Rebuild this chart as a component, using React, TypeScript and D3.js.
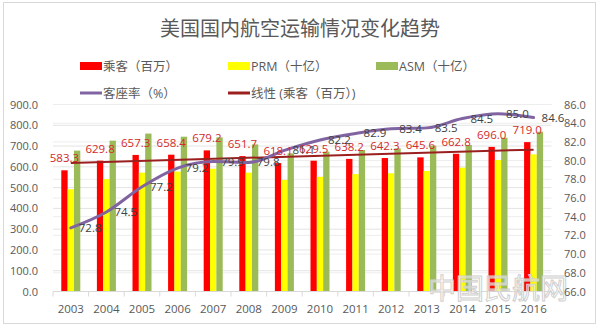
import React from "react";
import * as d3 from "d3";

const years = ["2003", "2004", "2005", "2006", "2007", "2008", "2009", "2010", "2011", "2012", "2013", "2014", "2015", "2016"];
const passengers = [583.3, 629.8, 657.3, 658.4, 679.2, 651.7, 618.1, 629.5, 638.2, 642.3, 645.6, 662.8, 696.0, 719.0];
const rpm = [492, 541, 572, 577, 591, 572, 537, 552, 565, 569, 580, 596, 633, 660];
const asm = [678, 726, 760, 745, 742, 708, 665, 673, 681, 689, 702, 705, 740, 769];
const loadFactor = [72.8, 74.5, 77.2, 79.2, 79.9, 79.8, 81.1, 82.2, 82.9, 83.4, 83.5, 84.5, 85.0, 84.6];
const leftTicks = [0, 100, 200, 300, 400, 500, 600, 700, 800, 900];
const rightTicks = [66, 68, 70, 72, 74, 76, 78, 80, 82, 84, 86];
const title = "美国国内航空运输情况变化趋势";
const legendBars = [
  { label: "乘客（百万）", color: "#ff0000" },
  { label: "PRM（十亿）", color: "#ffff00" },
  { label: "ASM（十亿）", color: "#9bbb59" },
];
const legendLines = [
  { label: "客座率（%）", color: "#8064a2" },
  { label: "线性 (乘客（百万）)", color: "#9c1f1f" },
];

const W = 600, H = 328;
const X0 = 53, X1 = 551.4, Y0 = 291.5, Y1 = 104.5;
const FONT = "'Open Sans', 'Noto Sans CJK SC', sans-serif";

export default function App() {
  const x = d3.scaleBand<string>().domain(years).range([X0, X1]).padding(0);
  const yL = d3.scaleLinear().domain([0, 900]).range([Y0, Y1]);
  const yR = d3.scaleLinear().domain([66, 86]).range([Y0, Y1]);
  const bw = x.bandwidth() * 0.178;
  const cx = (i: number) => (x(years[i]) as number) + x.bandwidth() / 2;

  // linear trend of passengers
  const n = passengers.length;
  const mx = (n - 1) / 2;
  const my = d3.mean(passengers) as number;
  let sxy = 0, sxx = 0;
  passengers.forEach((v, i) => { sxy += (i - mx) * (v - my); sxx += (i - mx) * (i - mx); });
  const slope = sxy / sxx;
  const trendStart = my - slope * mx;
  const trendEnd = my + slope * mx;

  const lfLine = d3.line<number>()
    .x((_, i) => cx(i))
    .y((d) => yR(d))
    .curve(d3.curveMonotoneX);

  const series = [
    { data: passengers, color: "#ff0000", off: -1 },
    { data: rpm, color: "#ffff00", off: 0 },
    { data: asm, color: "#9bbb59", off: 1 },
  ];

  return (
    <svg width={W} height={H} style={{ position: "absolute", left: 0, top: 0, background: "#fff" }} fontFamily={FONT}>
      <rect x={3.5} y={2.5} width={592} height={321} fill="#fff" stroke="#d9d9d9" />
      <text x={300} y={36} textAnchor="middle" fontSize={20} fill="#595959">{title}</text>

      {legendBars.map((l, i) => (
        <g key={l.label} transform={`translate(${80 + i * 148},66)`}>
          <rect x={0} y={-4} width={22} height={8} fill={l.color} />
          <text x={23} y={4.5} fontSize={12.5} fill="#595959">{l.label}</text>
        </g>
      ))}
      {legendLines.map((l, i) => (
        <g key={l.label} transform={`translate(${80 + i * 148},93)`}>
          <line x1={0} x2={22} y1={0} y2={0} stroke={l.color} strokeWidth={3} />
          <text x={23} y={4.5} fontSize={12.5} fill="#595959">{l.label}</text>
        </g>
      ))}

      {/* gridlines */}
      {leftTicks.slice(1).map((t) => (
        <line key={"gl" + t} x1={X0} x2={X1} y1={yL(t)} y2={yL(t)} stroke="#e3e3e3" strokeWidth={1} />
      ))}
      {rightTicks.slice(1).map((t) => (
        <line key={"gr" + t} x1={X0} x2={X1} y1={yR(t)} y2={yR(t)} stroke="#ededed" strokeWidth={1} />
      ))}

      {/* bars */}
      {series.map((s) =>
        s.data.map((v, i) => (
          <rect key={s.color + i} x={cx(i) + (s.off - 0.5) * bw} y={yL(v)} width={bw} height={Y0 - yL(v)} fill={s.color} />
        ))
      )}

      {/* axis */}
      <line x1={X0} x2={X1} y1={Y0} y2={Y0} stroke="#d9d9d9" />
      {years.map((yv) => (
        <line key={"tk" + yv} x1={x(yv) as number} x2={x(yv) as number} y1={Y0} y2={Y0 + 5} stroke="#d9d9d9" />
      ))}
      <line x1={X1} x2={X1} y1={Y0} y2={Y0 + 5} stroke="#d9d9d9" />

      {/* watermark */}
      <text x={428} y={299} fontSize={28} fill="#ffffff" fillOpacity={0.5} stroke="#cfcfcf" strokeWidth={1} fontFamily="'Noto Sans CJK SC', sans-serif">中国民航网</text>

      {years.map((yv, i) => (
        <text key={"yl" + yv} x={cx(i)} y={Y0 + 21} textAnchor="middle" fontSize={11.5} fill="#595959">{yv}</text>
      ))}
      {leftTicks.map((t) => (
        <text key={"lt" + t} x={38} y={yL(t) + 4} textAnchor="end" fontSize={11} fill="#595959">{t.toFixed(1)}</text>
      ))}
      {rightTicks.map((t) => (
        <text key={"rt" + t} x={564} y={yR(t) + 4} textAnchor="start" fontSize={11} fill="#595959">{t.toFixed(1)}</text>
      ))}

      {/* trend line */}
      <line x1={cx(0)} x2={cx(n - 1)} y1={yL(trendStart)} y2={yL(trendEnd)} stroke="#9c1f1f" strokeWidth={2} />

      {/* load factor line */}
      <path d={lfLine(loadFactor) as string} fill="none" stroke="#8064a2" strokeWidth={3} strokeLinecap="round" />

      {/* passenger labels */}
      {passengers.map((v, i) => (
        <text key={"pl" + i} x={cx(i) - bw} y={yL(v) - 8} textAnchor="middle" fontSize={11.5} fill="#d42a2a">{v.toFixed(1)}</text>
      ))}
      {/* load factor labels */}
      {loadFactor.map((v, i) => (
        <text key={"lf" + i} x={cx(i) + 8} y={yR(v) + 4} textAnchor="start" fontSize={11.5} fill="#404040">{v.toFixed(1)}</text>
      ))}
    </svg>
  );
}
